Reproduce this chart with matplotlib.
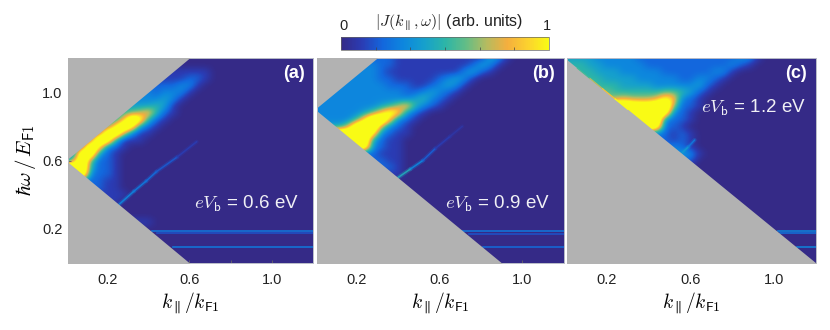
import numpy as np
import matplotlib
matplotlib.use("Agg")
import matplotlib.pyplot as plt
from matplotlib.colors import LinearSegmentedColormap

plt.rcParams['font.family'] = ['Liberation Sans', 'DejaVu Sans']
plt.rcParams['mathtext.fontset'] = 'cm'

# maps read by eye on a 0.04 grid: rows go from w=1.20 down to 0, columns k=0..1.20
# one hex character per cell, value/10, anything above a just saturates to yellow
# short rows are padded with 0
map_a = ["", "",
 "111111111111111111",
 "111111111111111221",
 "22222222222222331",
 "3333333333323331",
 "333333333333431",
 "44444444444541",
 "55555555679521",
 "44444448fc521",
 "555555afc421",
 "55555df8311",
 "5555fe5111",
 "444fb321",
 "33ff421",
 "37f6221",
 "fff5221",
 "fff3221",
 "3332211",
 "2222211",
 "11111111",
 "1111111",
 "", "",
 "11111111111", "", "", "", "", "", ""]
map_b = [
 "222222222211111111111431",
 "33333333221111111112431",
 "333333332111111111 3421".replace(" ", ""),
 "33333333221111123431",
 "33333333322211 23431".replace(" ", ""),
 "333333333332234321",
 "33333333333345321",
 "3333333345795321",
 "333333469ca421",
 "333335aff9321",
 "44447eff7321",
 "fffffffb3211",
 "ffffffe4211",
 "ffffffd3211",
 "22222222111",
 "22222222211",
 "22222222221",
 "11111111111",
 "", "", "", "", "", "", "", "", "", "", "", "", ""]
map_c = [
 "4444333332222222222223310",
 "55544333332222222222321",
 "555544433333222222331",
 "55555444433333223321",
 "6666555444433333421",
 "666666555555665421",
 "777777787778b9321",
 "ffffffffeddef7221",
 "ffffffffffffd321",
 "ffffffffffff3221",
 "fffffffffffd221",
 "3333333333332121",
 "2222222222222121",
 "2222222222222321",
 "33333333333333431",
 "2222222222222222",
 "", "", "", "", "", "", "", "", "", "", "", "", "", "", ""]
all_maps = [map_a, map_b, map_c]

apex_w = [0.6, 0.9, 1.2]
panel_tags = ["(a)", "(b)", "(c)"]
bias_labels = ["0.6", "0.9", "1.2"]

# thin branch below the main band
branch_k = [[0.26, 0.33, 0.39, 0.44, 0.54, 0.635],
            [0.40, 0.46, 0.52, 0.58, 0.65, 0.71],
            [0.56, 0.59, 0.62]]
branch_w = [[0.345, 0.42, 0.48, 0.535, 0.62, 0.71],
            [0.50, 0.55, 0.60, 0.67, 0.74, 0.80],
            [0.645, 0.68, 0.72]]
branch_v = [[0.30, 0.26, 0.22, 0.17, 0.10, 0.05],
            [0.45, 0.30, 0.18, 0.10, 0.07, 0.04],
            [0.38, 0.26, 0.18]]

# flat bands near the bottom: w, start k, value
band_w = [[0.19, 0.175, 0.095], [0.19, 0.17, 0.095], [0.19, 0.175, 0.095]]
band_k = [[0.42, 0.44, 0.52], [0.71, 0.74, 0.81], [1.02, 1.03, 1.11]]
band_v = [[0.26, 0.16, 0.26], [0.26, 0.16, 0.22], [0.30, 0.24, 0.30]]

# bright rim on the cone edge in panel (c)
rim_k = [0.06, 0.12, 0.18, 0.24, 0.30]
rim_v = [0.55, 0.7, 0.85, 1.0]

cbar_colors = ["#352a87", "#2a3cb4", "#1367dd", "#0d87de", "#16a0cc", "#2cb5a8",
               "#62bd86", "#b5bb60", "#f4ae3e", "#fcd22e", "#f9fb15"]
parula = LinearSegmentedColormap.from_list("parula_ish", cbar_colors)
GRAY = "#b2b2b2"

def parse_map(rows):
    out = np.zeros((31, 31))
    for i, row in enumerate(rows):
        row = row.ljust(31, "0")[:31]
        out[i] = [int(ch, 16) / 10.0 for ch in row]
    return out

fig = plt.figure(figsize=(8.3, 3.3), dpi=100)
lefts = [68, 317, 567]
widths = [245, 247, 249]

for i in range(3):
    ax = fig.add_axes([lefts[i] / 830, (330 - 263) / 330, widths[i] / 830, 205 / 330])
    im = ax.imshow(parse_map(all_maps[i]), extent=(-0.02, 1.22, -0.02, 1.22), aspect="auto",
                   cmap=parula, vmin=0, vmax=1, interpolation="bicubic")
    for lw, al in [(3.0, 0.3), (1.1, 0.9)]:
        for j in range(len(branch_k[i]) - 1):
            ax.plot(branch_k[i][j:j + 2], branch_w[i][j:j + 2], color=parula(branch_v[i][j]),
                    lw=lw, alpha=al, solid_capstyle="round")
    for w, k0, v in zip(band_w[i], band_k[i], band_v[i]):
        ax.plot([k0, 1.2], [w, w], color=parula(v), lw=1.2, alpha=0.9)

    # gray part outside the allowed cone
    kk = np.array([0, 1.2])
    ax.fill_between(kk, apex_w[i] + kk, 1.3, color=GRAY, lw=0, zorder=3)
    ax.fill_between(kk, -0.1, apex_w[i] - kk, color=GRAY, lw=0, zorder=3)
    if i == 2:
        for j in range(len(rim_v)):
            ax.plot(rim_k[j:j + 2], [apex_w[i] - rim_k[j], apex_w[i] - rim_k[j + 1]],
                    color=parula(rim_v[j]), lw=0.9, zorder=4)

    ax.set_xlim(0.01, 1.2)
    ax.set_ylim(0.0, 1.2)
    ax.set_xticks([0.2, 0.4, 0.6, 0.8, 1.0, 1.2])
    ax.set_xticklabels(["0.2", "", "0.6", "", "1.0", ""])
    ax.set_yticks([0.2, 0.4, 0.6, 0.8, 1.0])
    if i == 0:
        ax.set_yticklabels(["0.2", "", "0.6", "", "1.0"])
        ax.set_ylabel(r"$\hbar\omega\,/\,E_{\mathsf{F1}}$", fontsize=15, labelpad=3)
    else:
        ax.set_yticklabels([])
    ax.tick_params(direction="in", length=2.5, width=0.6, color="#666666", labelsize=10.5,
                   labelcolor="#222222")
    ax.tick_params(axis="x", pad=7)
    ax.tick_params(axis="y", pad=4)
    ax.set_xlabel(r"$k_{\parallel}/k_{\mathsf{F1}}$", fontsize=14, labelpad=3)
    for s in ax.spines.values():
        s.set_color("#b9bcc8")
        s.set_linewidth(0.7)
    ax.text(0.965, 0.925, panel_tags[i], transform=ax.transAxes, color="white", fontsize=13,
            fontweight="bold", ha="right", va="center", zorder=6)
    lab = r"$eV_{\mathsf{b}}$ = " + bias_labels[i] + " eV"
    if i == 2:
        ax.text(0.96, 0.755, lab, transform=ax.transAxes, color="#f0f0f5", fontsize=13.5,
                ha="right", va="center", zorder=6)
    else:
        ax.text(0.945, 0.29, lab, transform=ax.transAxes, color="#f0f0f5", fontsize=13.5,
                ha="right", va="center", zorder=6)

cax = fig.add_axes([341 / 830, (330 - 50) / 330, 208 / 830, 13 / 330])
cb = fig.colorbar(im, cax=cax, orientation="horizontal")
cb.set_ticks(np.arange(1, 6) / 6.0)
cb.set_ticklabels([])
cax.tick_params(direction="in", length=2, width=0.5, color="#444444")
cb.outline.set_linewidth(0.5)
cb.outline.set_edgecolor("#666666")
fig.text(343 / 830, 1 - 26 / 330, "0", fontsize=10.5, ha="center", va="center", color="#222222")
fig.text(547 / 830, 1 - 26 / 330, "1", fontsize=10.5, ha="center", va="center", color="#222222")
fig.text(449 / 830, 1 - 22 / 330, r"$|J(k_{\parallel},\omega)|$ (arb. units)", fontsize=11.5,
         ha="center", va="center", color="#222222")

fig.savefig("out.png", dpi=100)
